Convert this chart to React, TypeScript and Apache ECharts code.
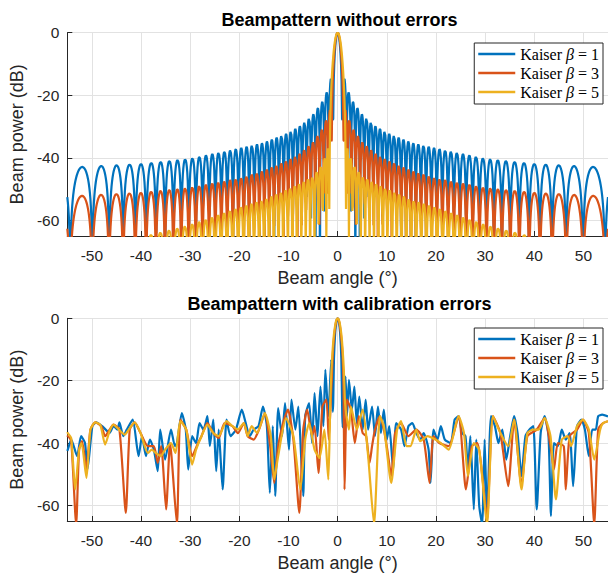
import React, { useEffect, useRef } from 'react';
import * as echarts from 'echarts';

// ---------------- data ----------------
const seriesNames = ['Kaiser β = 1', 'Kaiser β = 3', 'Kaiser β = 5'];
const betas = [1, 3, 5];
const colors = ['#0072BD', '#D95319', '#EDB120'];

// Top panel: lobe spacing (lobes per unit sine x 2), angle step of the plotted curve
const LOBE_N = 128;
const ANGLE_STEP = 0.1;
// sidelobe peak levels (dB) read at these |angles| (deg)
const envAngles = [1.4, 2, 3, 5, 7.5, 10, 15, 20, 30, 40, 50, 55];
const envK1 = [-14.7, -18.2, -21.8, -26.2, -29.7, -32.0, -35.2, -37.0, -40.3, -42.0, -42.8, -43.1];
const envK3 = [-23.9, -26.5, -30.5, -35.0, -38.5, -40.8, -44.2, -46.6, -49.6, -51.2, -52.0, -52.4];
const envK5 = [-36.9, -36.9, -42.0, -46.0, -48.2, -50.0, -53.5, -56.0, -61.5, -65.5, -67.0, -67.0];
// main lobe points [|angle|, dB]
const mainK1 = [[0, 0], [0.1, -0.2], [0.2, -0.7], [0.3, -1.6], [0.4, -2.9], [0.5, -4.7], [0.6, -7.1], [0.7, -10.4], [0.8, -15.5], [0.9, -27.6]];
const mainK3 = [[0, 0], [0.1, -0.1], [0.2, -0.5], [0.3, -1.1], [0.4, -2.0], [0.5, -3.2], [0.6, -4.8], [0.7, -6.6], [0.8, -9.0], [0.9, -11.9], [1.0, -16.0], [1.1, -21.9], [1.2, -34.4]];
const mainK5 = [[0, 0], [0.1, -0.1], [0.2, -0.35], [0.3, -0.8], [0.4, -1.4], [0.5, -2.2], [0.6, -3.2], [0.7, -4.4], [0.8, -5.9], [0.9, -7.6], [1.0, -9.6], [1.1, -11.9], [1.2, -14.6], [1.3, -18.0], [1.4, -22.2], [1.5, -27.8], [1.6, -36.7]];

// Bottom panel (with calibration errors): [angle, dB]
const errK1 = [
  [-55, -42.5], [-54.9, -42.1], [-54.2, -38.9], [-53.0, -44.2], [-52.2, -37.8], [-51.4, -40.0], [-50.9, -48.5], [-49.9, -34.6],
  [-49.1, -33.4], [-47.9, -34.6], [-47.2, -35.7], [-46.4, -36.8], [-45.6, -34.6], [-44.8, -35.7], [-44.4, -33.4], [-43.6, -37.8],
  [-42.9, -35.7], [-41.7, -32.5], [-40.5, -44.2], [-39.8, -37.8], [-39.0, -44.2], [-38.2, -38.9], [-37.4, -42.1], [-36.6, -49.0],
  [-36.1, -35.7], [-35.1, -45.3], [-33.9, -35.7], [-33.1, -41.0], [-32.7, -40.0], [-31.7, -30.4], [-30.9, -35.7], [-30.4, -48.5],
  [-29.6, -37.8], [-28.8, -40.0], [-28.1, -33.6], [-27.3, -35.7], [-26.5, -31.4], [-26.0, -41.0], [-25.3, -32.5], [-24.7, -49.0],
  [-24.2, -35.7], [-23.4, -54.9], [-22.6, -32.5], [-21.8, -37.8], [-20.7, -35.7], [-19.5, -29.3], [-18.7, -33.6], [-17.9, -37.8],
  [-17.1, -35.7], [-16.1, -34.6], [-15.2, -28.3], [-14.4, -34.6], [-13.8, -56.0], [-13.2, -34.6], [-12.7, -57.0], [-12.1, -28.8],
  [-11.3, -37.8], [-10.7, -27.2], [-9.9, -42.1], [-9.4, -26.1], [-8.6, -35.7], [-8.0, -28.3], [-7.4, -45.3], [-7.0, -57.0],
  [-6.6, -31.4], [-5.8, -27.2], [-5.2, -40.0], [-4.7, -24.0], [-4.1, -37.8], [-3.5, -21.9], [-2.9, -34.6], [-2.5, -16.5],
  [-1.9, -31.4], [-1.3, -13.3], [-1.0, -30.0], [-0.9, -27.0], [-0.75, -13.0], [-0.5, -4.6], [-0.25, -1.1], [0, 0],
  [0.25, -1.1], [0.5, -4.6], [0.75, -13.0], [0.9, -27.0], [1.0, -35.0], [1.6, -18.7], [1.9, -31.4], [2.3, -19.7],
  [2.9, -29.3], [3.4, -21.9], [3.9, -33.6], [4.4, -25.1], [5.1, -35.7], [5.7, -26.1], [6.2, -35.7], [7.0, -28.3],
  [7.6, -37.8], [8.2, -28.3], [8.8, -36.8], [9.4, -29.3], [10.0, -38.9], [10.5, -34.6], [11.3, -48.5], [11.9, -33.6],
  [12.9, -35.7], [13.6, -41.0], [14.4, -34.6], [15.2, -33.6], [16.0, -36.8], [16.8, -38.9], [17.5, -36.8], [18.5, -42.1],
  [18.9, -52.8], [19.5, -35.7], [20.3, -38.9], [21.0, -34.6], [21.8, -38.9], [23.0, -40.0], [23.8, -32.5], [24.6, -31.4],
  [25.3, -36.8], [26.0, -37.8], [26.5, -48.5], [27.0, -37.8], [27.7, -61.3], [28.2, -38.9], [28.8, -60.2], [29.4, -66.0],
  [29.9, -38.9], [30.4, -64.5], [31.2, -31.4], [32.0, -34.6], [32.7, -40.0], [33.5, -35.7], [34.3, -45.3], [35.1, -37.8],
  [35.9, -31.4], [36.6, -36.8], [37.4, -50.6], [38.2, -37.8], [39.0, -35.7], [39.8, -34.6], [40.5, -61.3], [41.3, -36.8],
  [42.1, -31.4], [42.9, -37.8], [43.4, -63.4], [44.0, -40.0], [44.8, -41.0], [45.6, -35.7], [46.4, -38.9], [47.2, -36.8],
  [47.9, -53.8], [48.7, -34.6], [49.6, -32.5], [50.3, -35.7], [51.1, -44.2], [51.8, -35.7], [52.5, -35.7], [53.0, -31.4],
  [53.8, -30.9], [55, -31.5],
];
const errK3 = [
  [-55, -38.0], [-54.9, -37.8], [-54.2, -39.4], [-53.2, -66.0], [-52.6, -42.1], [-52.0, -39.4], [-51.1, -48.5], [-50.3, -35.7],
  [-49.3, -33.4], [-48.1, -34.6], [-47.3, -37.8], [-46.4, -35.7], [-45.6, -34.1], [-44.4, -35.7], [-43.1, -62.4], [-42.3, -35.7],
  [-41.3, -33.4], [-40.1, -36.8], [-38.6, -41.0], [-37.4, -41.0], [-36.6, -46.4], [-35.9, -41.0], [-34.9, -61.3], [-34.1, -40.0],
  [-32.7, -66.0], [-32.0, -32.5], [-30.8, -35.7], [-29.6, -44.2], [-28.4, -40.0], [-27.7, -37.8], [-26.5, -33.6], [-25.3, -36.8],
  [-24.2, -38.4], [-23.0, -33.6], [-21.4, -34.6], [-20.3, -36.8], [-19.1, -33.6], [-18.3, -37.8], [-17.1, -38.9], [-16.0, -35.7],
  [-14.8, -30.4], [-13.8, -40.0], [-12.9, -52.8], [-12.1, -41.0], [-10.9, -32.5], [-10.1, -29.3], [-9.0, -38.9], [-7.8, -62.4],
  [-7.0, -35.7], [-6.2, -29.3], [-5.2, -37.8], [-4.7, -34.6], [-3.9, -49.6], [-3.1, -28.3], [-2.3, -26.1], [-1.8, -38.9],
  [-1.3, -22.9], [-1.2, -20.0], [-1.0, -12.0], [-0.75, -6.5], [-0.5, -2.9], [-0.25, -0.7], [0, 0], [0.25, -0.7],
  [0.5, -2.9], [0.75, -6.5], [1.0, -12.0], [1.2, -22.0], [1.4, -54.9], [1.9, -26.1], [2.7, -29.3], [3.5, -40.0],
  [4.3, -31.4], [5.1, -36.8], [5.8, -37.8], [6.5, -46.4], [7.0, -41.0], [7.6, -35.7], [8.6, -31.4], [9.4, -35.7],
  [10.1, -42.1], [10.9, -50.6], [11.7, -36.8], [12.9, -33.6], [14.4, -37.8], [16.0, -35.7], [17.5, -38.9], [18.7, -52.8],
  [19.5, -37.8], [20.7, -40.0], [22.6, -41.0], [24.6, -31.4], [26.1, -54.9], [27.3, -41.0], [28.4, -40.0], [30.0, -59.2],
  [30.4, -64.5], [31.6, -31.4], [33.1, -36.8], [34.7, -53.8], [35.9, -32.5], [37.4, -53.8], [38.6, -37.8], [40.5, -35.7],
  [42.1, -32.0], [43.3, -41.0], [44.0, -48.5], [44.8, -40.0], [46.0, -41.0], [46.4, -54.9], [47.2, -37.8], [48.7, -35.7],
  [49.9, -32.5], [51.1, -36.8], [52.2, -66.0], [53.0, -35.7], [54.0, -33.6], [55, -33.0],
];
const errK5 = [
  [-55, -36.5], [-54.9, -36.8], [-54.2, -38.4], [-53.4, -54.9], [-52.6, -42.1], [-52.1, -40.0], [-51.1, -51.2], [-50.3, -35.7],
  [-49.3, -33.4], [-48.3, -34.1], [-47.3, -40.5], [-46.4, -36.2], [-45.6, -34.1], [-44.8, -35.2], [-43.3, -37.3], [-42.5, -35.7],
  [-41.3, -33.4], [-40.1, -36.8], [-38.6, -43.2], [-37.8, -42.1], [-37.0, -43.2], [-36.0, -44.2], [-35.1, -42.1], [-33.9, -40.0],
  [-33.0, -43.2], [-32.0, -33.0], [-30.8, -35.7], [-29.6, -46.9], [-28.8, -42.1], [-27.7, -37.8], [-26.5, -34.1], [-25.3, -36.8],
  [-24.2, -37.8], [-22.6, -33.0], [-21.4, -34.6], [-20.3, -35.7], [-19.1, -33.6], [-18.3, -37.8], [-17.5, -34.6], [-16.4, -36.8],
  [-14.8, -30.4], [-13.6, -37.8], [-12.9, -51.7], [-12.1, -44.2], [-10.5, -32.0], [-9.0, -37.8], [-7.6, -54.9], [-6.6, -38.9],
  [-5.8, -33.6], [-4.7, -42.1], [-3.7, -44.8], [-2.7, -35.7], [-1.9, -51.7], [-1.6, -35.0], [-1.5, -27.0], [-1.25, -16.3],
  [-1.0, -9.6], [-0.75, -5.1], [-0.5, -2.2], [-0.25, -0.5], [0, 0], [0.25, -0.5], [0.5, -2.2], [0.75, -5.1],
  [1.0, -9.6], [1.25, -16.3], [1.5, -27.0], [1.8, -31.4], [2.3, -35.7], [2.7, -28.3], [3.9, -35.7], [5.1, -29.3],
  [6.2, -44.2], [7.4, -66.0], [8.6, -31.4], [9.4, -34.6], [10.9, -52.8], [12.1, -35.7], [12.9, -33.0], [14.0, -41.0],
  [14.8, -41.0], [16.0, -35.7], [16.8, -39.4], [18.3, -37.8], [19.9, -38.9], [21.0, -40.0], [22.6, -42.1], [24.6, -31.4],
  [25.7, -36.8], [26.5, -50.6], [27.7, -40.0], [28.8, -42.1], [30.4, -66.0], [31.6, -31.4], [33.1, -36.8], [34.7, -41.0],
  [35.9, -32.5], [37.4, -54.9], [38.6, -36.8], [39.8, -35.7], [40.9, -35.7], [42.1, -32.0], [43.3, -37.8], [44.4, -58.1],
  [45.6, -38.9], [46.8, -37.8], [47.5, -41.0], [48.7, -34.6], [49.9, -32.5], [51.1, -35.7], [52.2, -45.3], [53.4, -35.7],
  [54.0, -33.6], [55, -33.0],
];

// ---------------- helpers ----------------
function envAt(a: number, env: number[]) {
  if (a <= envAngles[0]) return env[0];
  for (let i = 1; i < envAngles.length; i++) {
    if (a <= envAngles[i]) {
      const t = (a - envAngles[i - 1]) / (envAngles[i] - envAngles[i - 1]);
      return env[i - 1] + t * (env[i] - env[i - 1]);
    }
  }
  return env[env.length - 1];
}

function buildTop(beta: number, env: number[], main: number[][]) {
  const rad = Math.PI / 180;
  const nullS = Math.sqrt(Math.PI * Math.PI + beta * beta);
  const left: number[][] = [];
  const right: number[][] = [];
  const steps = Math.round(110 / ANGLE_STEP);
  for (let i = 0; i <= steps; i++) {
    const th = Math.round((-55 + i * ANGLE_STEP) * 100) / 100;
    const a = Math.abs(th);
    const s = LOBE_N * Math.sin((Math.PI * Math.sin(a * rad)) / 2);
    if (s <= nullS) continue;
    const z = Math.sqrt(s * s - beta * beta);
    const v = envAt(a, env) + 20 * Math.log10(Math.max(Math.abs(Math.sin(z)), 1e-5));
    (th < 0 ? left : right).push([th, v]);
  }
  const mid = [
    ...main.slice().reverse().map(([a, v]) => [-a, v]),
    ...main.slice(1),
  ];
  return [...left, ...mid, ...right];
}

const FONT = '"Liberation Sans", Arial, Helvetica, sans-serif';
const AX = '#262626';
const LW = 2.2;

function makeAxes(gi: number) {
  const x = {
    type: 'value', gridIndex: gi, min: -55, max: 55, splitNumber: 11,
    axisLine: { show: true, onZero: false, lineStyle: { color: AX, width: 1 } },
    axisTick: { show: true, inside: true, length: 5, lineStyle: { color: AX } },
    axisLabel: { color: AX, fontSize: 15.5, fontFamily: FONT, margin: 11, showMinLabel: false, showMaxLabel: false },
    splitLine: { show: true, lineStyle: { color: '#e2e2e2', width: 1 } },
    name: 'Beam angle (°)', nameLocation: 'middle', nameGap: 33,
    nameTextStyle: { fontSize: 18, color: AX, fontFamily: FONT },
  };
  const y = {
    type: 'value', gridIndex: gi, min: -65, max: 0, splitNumber: 3,
    axisLine: { show: true, onZero: false, lineStyle: { color: AX, width: 1 } },
    axisTick: { show: true, inside: true, length: 5, lineStyle: { color: AX } },
    axisLabel: { color: AX, fontSize: 15.5, fontFamily: FONT, margin: 8, showMinLabel: false, showMaxLabel: true },
    splitLine: { show: true, lineStyle: { color: '#e2e2e2', width: 1 } },
    name: 'Beam power (dB)', nameLocation: 'middle', nameGap: 33, nameRotate: 90,
    nameTextStyle: { fontSize: 18, color: AX, fontFamily: FONT },
  };
  return { x, y };
}

function makeLegend(top: number) {
  return {
    top, right: 5, orient: 'vertical', align: 'left',
    data: seriesNames,
    icon: 'rect',
    itemWidth: 37, itemHeight: 2.5, itemGap: 3,
    padding: [3, 4, 4, 4],
    borderColor: AX, borderWidth: 1, backgroundColor: '#fff',
    formatter: (name: string) => {
      const [a, b] = name.split('β');
      return `{t|${a}}{g|β}{t|${b}}`;
    },
    textStyle: {
      rich: {
        t: { fontFamily: '"Liberation Serif", "Times New Roman", serif', fontSize: 16, color: '#000', lineHeight: 15 },
        g: { fontFamily: '"Liberation Serif", "Times New Roman", serif', fontStyle: 'italic', fontSize: 16, color: '#000', lineHeight: 15 },
      },
    },
  };
}

export default function App() {
  const ref = useRef<HTMLDivElement>(null);
  useEffect(() => {
    if (!ref.current) return;
    const chart = echarts.init(ref.current, undefined, { renderer: 'svg' });
    const a0 = makeAxes(0);
    const a1 = makeAxes(1);
    const topData = [
      buildTop(betas[0], envK1, mainK1),
      buildTop(betas[1], envK3, mainK3),
      buildTop(betas[2], envK5, mainK5),
    ];
    const botData = [errK1, errK3, errK5];
    const series: any[] = [];
    for (let i = 0; i < 3; i++) {
      series.push({
        type: 'line', name: seriesNames[i], xAxisIndex: 0, yAxisIndex: 0,
        data: topData[i], showSymbol: false, symbol: 'none', clip: true,
        lineStyle: { color: colors[i], width: LW }, itemStyle: { color: colors[i] }, z: 2 + i,
      });
    }
    for (let i = 0; i < 3; i++) {
      series.push({
        type: 'line', name: seriesNames[i], xAxisIndex: 1, yAxisIndex: 1,
        data: botData[i], showSymbol: false, symbol: 'none', clip: true, smooth: 0.2,
        lineStyle: { color: colors[i], width: LW }, itemStyle: { color: colors[i] }, z: 2 + i,
      });
    }
    chart.setOption({
      animation: false,
      backgroundColor: '#fff',
      grid: [
        { left: 65.7, top: 32.7, right: -4.7, height: 203.3 },
        { left: 65.7, top: 318.3, right: -4.7, height: 202.7 },
      ],
      xAxis: [a0.x, a1.x],
      yAxis: [a0.y, a1.y],
      legend: [makeLegend(43), makeLegend(328)],
      graphic: [
        { type: 'text', x: 339.5, y: 19.5, style: { text: 'Beampattern without errors', fontSize: 18, fontWeight: 'bold', fontFamily: FONT, fill: '#000', align: 'center', verticalAlign: 'middle' } },
        { type: 'text', x: 339.5, y: 304, style: { text: 'Beampattern with calibration errors', fontSize: 18, fontWeight: 'bold', fontFamily: FONT, fill: '#000', align: 'center', verticalAlign: 'middle' } },
      ],
      series,
    });
    return () => chart.dispose();
  }, []);
  return <div ref={ref} style={{ position: 'fixed', left: 0, top: 0, width: 608, height: 576 }} />;
}
